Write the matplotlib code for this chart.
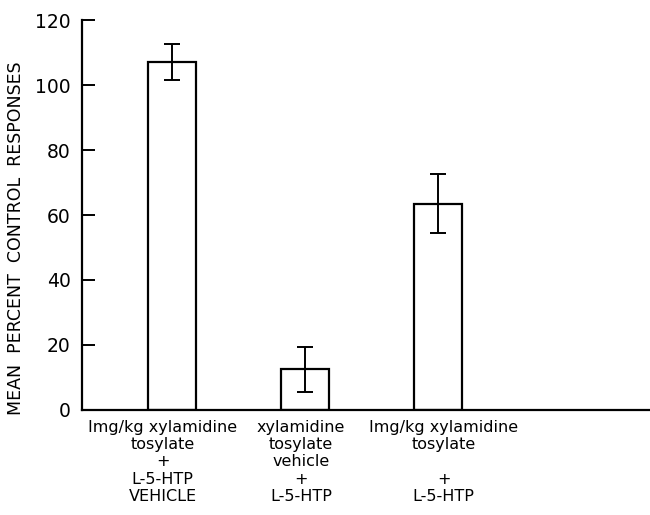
import matplotlib
matplotlib.use("Agg")
import matplotlib.pyplot as plt

# values
groups = [
    "Img/kg xylamidine\ntosylate\n+\nL-5-HTP\nVEHICLE",
    "xylamidine\ntosylate\nvehicle\n+\nL-5-HTP",
    "Img/kg xylamidine\ntosylate\n\n+\nL-5-HTP",
]
means = [107, 12.5, 63.5]
errors = [5.5, 7, 9]
yticks = [0, 20, 40, 60, 80, 100, 120]

plt.rcParams["font.family"] = ["DejaVu Sans"]

fig = plt.figure(figsize=(6.5, 5.15), dpi=100)
ax = fig.add_axes([0.126, 0.204, 0.874, 0.757])

pos = list(range(len(means)))
ax.bar(pos, means, width=0.36, color="white", edgecolor="black", linewidth=1.6)
ax.errorbar(pos, means, yerr=errors, fmt="none", ecolor="black",
            elinewidth=1.4, capsize=6, capthick=1.4)

ax.set_xlim(-0.677, 3.59)
ax.set_ylim(0, 120)
ax.set_yticks(yticks)
ax.tick_params(axis="y", direction="in", length=9, width=1.4, labelsize=13.5, pad=8)
ax.set_xticks([])

for spine in ["top", "right"]:
    ax.spines[spine].set_visible(False)
ax.spines["left"].set_linewidth(1.6)
ax.spines["bottom"].set_linewidth(1.6)

# label offsets from bar centres, as in the original
label_x = [-0.07, -0.03, 0.04]
for i, label in enumerate(groups):
    ax.text(pos[i] + label_x[i], -3.0, label, ha="center", va="top",
            fontsize=11.5, linespacing=1.2)

ax.set_ylabel("MEAN  PERCENT  CONTROL  RESPONSES", fontsize=12.5)
ax.yaxis.set_label_coords(-0.10, 0.44)

plt.savefig("out.png", dpi=100)
plt.close()
